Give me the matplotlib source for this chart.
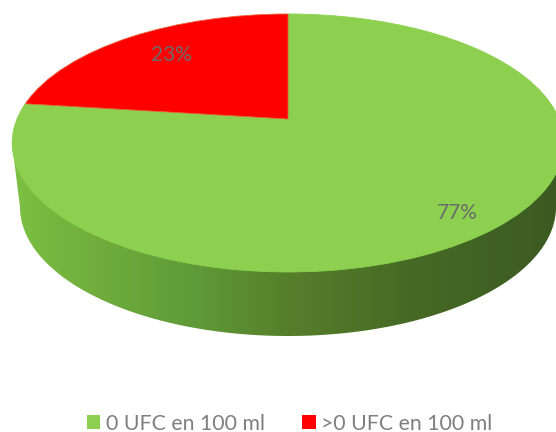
import numpy as np
import matplotlib.pyplot as plt
from matplotlib.colors import LinearSegmentedColormap
from matplotlib.patches import Polygon
from matplotlib.transforms import Transform

plt.rcParams['font.family'] = ['Lato', 'DejaVu Sans']

# values
labels = ['0 UFC en 100 ml', '>0 UFC en 100 ml']
values = [77, 23]
colors = ['#8dd04f', '#ff0000']


# the pie is a unit circle, this tilts it with some perspective (to pixels)
class Tilt(Transform):
    input_dims = 2
    output_dims = 2

    def transform_non_affine(self, xy):
        xy = np.asarray(xy)
        w = 0.186 * xy[:, 1] + 1
        return np.column_stack((288 + 271 * xy[:, 0] / w,
                                (119 - 102.4 * xy[:, 1]) / w))


fig = plt.figure(figsize=(5.56, 4.32), dpi=100)
ax = fig.add_axes([0, 0, 1, 1])

# side of the disc
t = np.linspace(0, np.pi, 200)
bx = 288 + 268 * np.cos(t)
by = 207 + 129 * np.sin(t)
side = np.column_stack((np.r_[564, bx, 12], np.r_[143, by, 143]))
shade = LinearSegmentedColormap.from_list('shade', [
    (0.00, '#7cc043'), (0.15, '#70ad3c'), (0.33, '#5f9a38'), (0.50, '#567f2b'),
    (0.72, '#466a25'), (1.00, '#3b5a22')])
grad = np.linspace(0, 1, 256).reshape(1, -1)
im = ax.imshow(grad, cmap=shade, extent=(12, 564, 345, 130), aspect='auto', zorder=1)
clip = Polygon(side, closed=True, transform=ax.transData, fc='none', ec='none')
ax.add_patch(clip)
im.set_clip_path(clip)

# top of the disc
wedges, _ = ax.pie(values, colors=colors, startangle=90, counterclock=False, radius=1)
tilt = Tilt() + ax.transData
for w in wedges:
    w.set_transform(tilt)
    w.set_zorder(2)
    w.set_clip_on(False)
    w.set_edgecolor('#8ad24e')
    w.set_linewidth(0.6)
wedges[1].set_edgecolor('#e8623a')

ax.text(457, 213, '%d%%' % values[0], color='#6b6b6b', fontsize=15, ha='center', va='center', zorder=3)
ax.text(171, 55, '%d%%' % values[1], color='#6f6a6a', fontsize=15, ha='center', va='center', zorder=3)

ax.set_xlim(0, 556)
ax.set_ylim(432, 0)
ax.set_aspect('auto')
ax.axis('off')

leg = ax.legend(wedges, labels, ncol=2, frameon=False, loc='lower center',
                bbox_to_anchor=(0.5207, -0.038), fontsize=15.3, labelcolor='#7f7f7f',
                handlelength=0.65, handleheight=0.65, handletextpad=0.25,
                columnspacing=1.75, borderpad=0.2)
for h in leg.legend_handles:
    h.set_edgecolor('none')

plt.savefig('out.png', dpi=100)
